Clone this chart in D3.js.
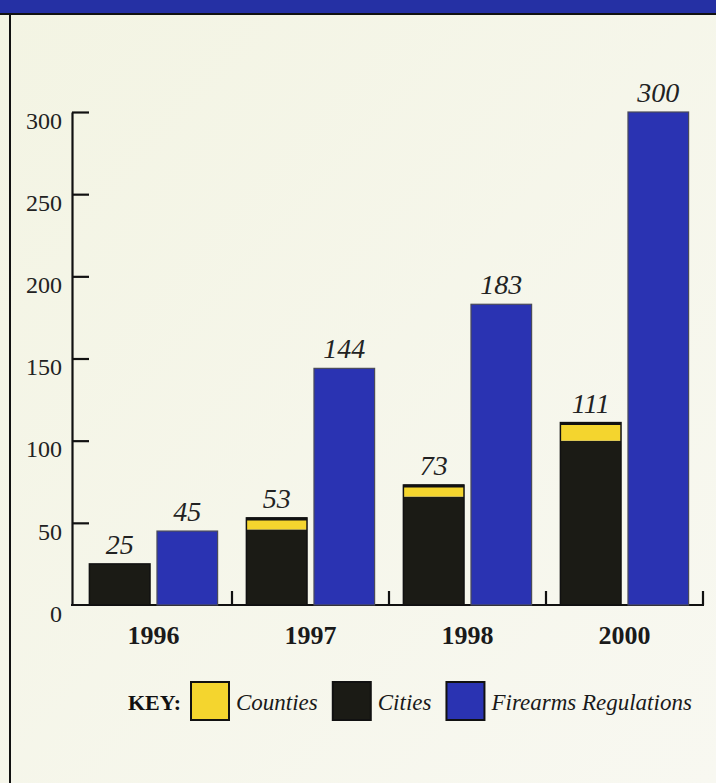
<!DOCTYPE html>
<html>
<head>
<meta charset="utf-8">
<script src="https://cdn.jsdelivr.net/npm/d3@7/dist/d3.min.js"></script>
<style>
  html, body { margin: 0; padding: 0; background: #f5f5ea; }
  svg { display: block; }
</style>
</head>
<body>
<svg id="chart" width="716" height="783"></svg>
<script>
// Ordinances by year
const years = ["1996", "1997", "1998", "2000"];
const cities = [25, 46, 66, 100];
const counties = [0, 7, 7, 11];
const firearms = [45, 144, 183, 300];
const yTicks = [0, 50, 100, 150, 200, 250, 300];
const keyLabels = ["Counties", "Cities", "Firearms Regulations"];

const colors = { counties: "#f4d52e", cities: "#1b1b15", firearms: "#2a33b2" };
const serif = "'Liberation Serif', 'DejaVu Serif', serif";

const svg = d3.select("#chart");

// paper background
const defs = svg.append("defs");
const grad = defs.append("linearGradient").attr("id", "paper")
  .attr("x1", 0).attr("y1", 0).attr("x2", 1).attr("y2", 1);
grad.append("stop").attr("offset", 0).attr("stop-color", "#f3f4e3");
grad.append("stop").attr("offset", 1).attr("stop-color", "#f8f8f1");
svg.append("rect").attr("width", 716).attr("height", 783).attr("fill", "url(#paper)");

// header band and frame
svg.append("rect").attr("x", 0).attr("y", 0).attr("width", 716).attr("height", 13).attr("fill", "#2530a4");
svg.append("line").attr("x1", 0).attr("x2", 716).attr("y1", 14).attr("y2", 14)
  .attr("stroke", "#111").attr("stroke-width", 2);
svg.append("line").attr("x1", 10).attr("x2", 10).attr("y1", 14).attr("y2", 783)
  .attr("stroke", "#111").attr("stroke-width", 2);

// scales
const y = d3.scaleLinear().domain([0, 300]).range([605, 112]);
const x0 = d3.scaleBand().domain(years).range([75, 703]).paddingInner(0).paddingOuter(0);
const x1 = d3.scaleBand().domain(["local", "firearms"]).range([0, x0.bandwidth()])
  .paddingInner(0.103).paddingOuter(0.213);

// y axis: ticks point inward, labels sit just below each tick
const yAxis = d3.axisLeft(y).tickValues(yTicks).tickSizeInner(-17).tickSizeOuter(0).tickPadding(10);
const yg = svg.append("g").attr("transform", "translate(72,0)").call(yAxis);
yg.attr("font-size", null).attr("font-family", null);
yg.select(".domain").attr("stroke", "#111").attr("stroke-width", 2.2);
yg.selectAll(".tick line").attr("stroke", "#111").attr("stroke-width", 2.2)
  .filter(d => d === 0).remove();
yg.selectAll(".tick text").style("font-family", serif).style("font-size", "24px")
  .attr("fill", "#222").attr("dy", "0.68em").attr("x", -10);

// x axis baseline with boundary ticks
const baseY = y(0);
const xAxis = d3.axisBottom(x0).tickSize(0).tickPadding(21);
const xg = svg.append("g").attr("transform", `translate(0,${baseY})`).call(xAxis);
xg.attr("font-size", null).attr("font-family", null);
xg.select(".domain").remove();
xg.selectAll(".tick text").style("font-family", serif).style("font-size", "26px")
  .attr("font-weight", "bold").attr("fill", "#1a1a1a");
svg.append("line").attr("x1", 71).attr("x2", x0.range()[1] + 1).attr("y1", baseY).attr("y2", baseY)
  .attr("stroke", "#111").attr("stroke-width", 2.2);
svg.selectAll("line.bound").data(years).join("line").attr("class", "bound")
  .attr("x1", d => x0(d) + x0.step()).attr("x2", d => x0(d) + x0.step())
  .attr("y1", baseY).attr("y2", baseY - 14)
  .attr("stroke", "#111").attr("stroke-width", 2.2);

// stacked local bars (cities + counties)
const rows = years.map((yr, i) => ({ year: yr, cities: cities[i], counties: counties[i], firearms: firearms[i] }));
const stacked = d3.stack().keys(["cities", "counties"])(rows);
const groups = svg.append("g");
stacked.forEach(layer => {
  groups.selectAll(null).data(layer.filter(d => d[1] > d[0])).join("rect")
    .attr("x", d => x0(d.data.year) + x1("local"))
    .attr("width", x1.bandwidth())
    .attr("y", d => y(d[1]))
    .attr("height", d => y(d[0]) - y(d[1]))
    .attr("fill", colors[layer.key]);
});
// outline around each stack
svg.selectAll("rect.stackOutline").data(rows).join("rect").attr("class", "stackOutline")
  .attr("x", d => x0(d.year) + x1("local"))
  .attr("width", x1.bandwidth())
  .attr("y", d => y(d.cities + d.counties))
  .attr("height", d => baseY - y(d.cities + d.counties))
  .attr("fill", "none").attr("stroke", "#111").attr("stroke-width", 1.5);
svg.selectAll("line.stackTop").data(rows.filter(d => d.counties > 0)).join("line").attr("class", "stackTop")
  .attr("x1", d => x0(d.year) + x1("local")).attr("x2", d => x0(d.year) + x1("local") + x1.bandwidth())
  .attr("y1", d => y(d.cities + d.counties) + 1).attr("y2", d => y(d.cities + d.counties) + 1)
  .attr("stroke", "#111").attr("stroke-width", 3);

// firearms regulation bars
svg.selectAll("rect.fire").data(rows).join("rect").attr("class", "fire")
  .attr("x", d => x0(d.year) + x1("firearms"))
  .attr("width", x1.bandwidth())
  .attr("y", d => y(d.firearms))
  .attr("height", d => baseY - y(d.firearms))
  .attr("fill", colors.firearms).attr("stroke", "#4a4a5a").attr("stroke-width", 1.2);

// value labels
const valLabel = (sel) => sel.style("font-family", serif).attr("font-style", "italic")
  .style("font-size", "28px").attr("fill", "#222").attr("text-anchor", "middle");
svg.selectAll("text.localVal").data(rows).join("text").attr("class", "localVal")
  .attr("x", d => x0(d.year) + x1("local") + x1.bandwidth() / 2)
  .attr("y", d => y(d.cities + d.counties) - 10)
  .text(d => d.cities + d.counties).call(valLabel);
svg.selectAll("text.fireVal").data(rows).join("text").attr("class", "fireVal")
  .attr("x", d => x0(d.year) + x1("firearms") + x1.bandwidth() / 2)
  .attr("y", d => y(d.firearms) - 10)
  .text(d => d.firearms).call(valLabel);

// key, laid out left to right from the measured text widths
const key = svg.append("g");
key.append("text").attr("x", 128).attr("y", 710).text("KEY:")
  .style("font-family", serif).attr("font-weight", "bold").style("font-size", "22px").attr("fill", "#111");
let cursor = 191;
const keyColors = [colors.counties, colors.cities, colors.firearms];
keyLabels.forEach((label, i) => {
  key.append("rect").attr("x", cursor).attr("y", 682).attr("width", 38).attr("height", 38)
    .attr("fill", keyColors[i]).attr("stroke", "#111").attr("stroke-width", 2);
  const t = key.append("text").attr("x", cursor + 45).attr("y", 710).text(label)
    .style("font-family", serif).attr("font-style", "italic").style("font-size", "23px").attr("fill", "#1a1a1a");
  cursor += 45 + t.node().getComputedTextLength() + 15;
});
</script>
</body>
</html>
